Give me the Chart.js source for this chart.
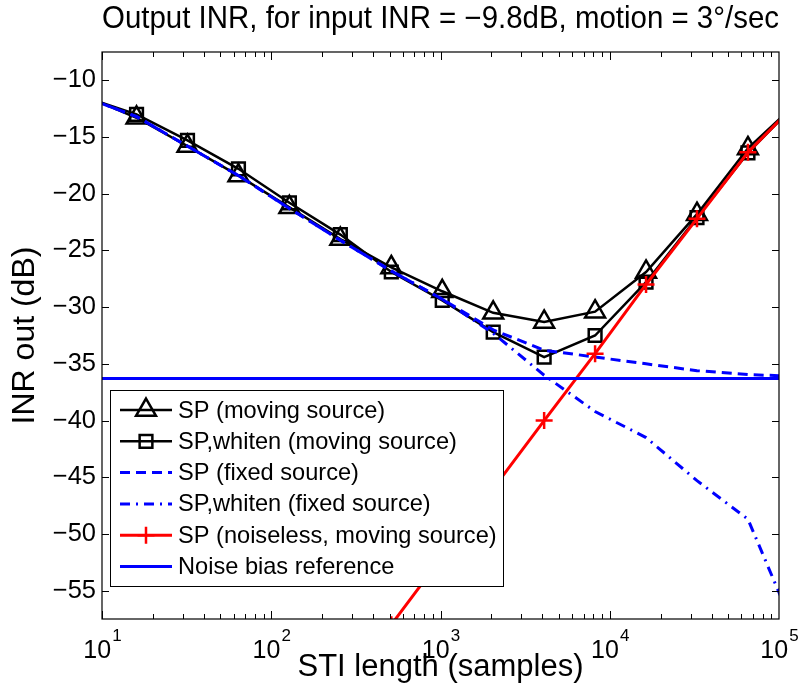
<!DOCTYPE html>
<html>
<head>
<meta charset="utf-8">
<title>Output INR vs STI length</title>
<script src="https://cdn.jsdelivr.net/npm/chart.js@4.4.1/dist/chart.umd.min.js"></script>
<style>
  html, body { margin: 0; padding: 0; background: #fff; }
</style>
</head>
<body>
<canvas id="inrChart" width="799" height="698"></canvas>
<script>
// STI lengths (samples), powers of two; first and last lie just outside the axis range
const xSamples = [8, 16, 32, 64, 128, 256, 512, 1024, 2048, 4096, 8192, 16384, 32768, 65536, 131072];

// INR out (dB) for each curve
const spMoving      = [-11.4, -13.3, -15.8, -18.4, -21.2, -24.0, -26.5, -28.6, -30.5, -31.3, -30.4, -26.9, -21.8, -16.0, -11.8];
const spWhitenMov   = [-11.5, -13.0, -15.3, -17.8, -20.8, -23.6, -26.9, -29.4, -32.2, -34.4, -32.5, -27.8, -22.1, -16.4, -11.8];
const spFixed       = [-11.5, -13.2, -15.8, -18.4, -21.3, -24.1, -26.8, -29.3, -32.0, -33.8, -34.4, -35.0, -35.6, -35.95, -36.1];
const spWhitenFixed = [-11.5, -13.2, -15.8, -18.4, -21.3, -24.1, -26.8, -29.3, -32.3, -36.0, -39.2, -41.5, -45.3, -48.7, -59.3];
const spNoiseless   = [null, null, null, null, null, null, -58.0, -52.0, -46.0, -40.0, -34.1, -28.0, -22.2, -16.35, -11.8];
const noiseBias = -36.3;

const yTicks = [-10, -15, -20, -25, -30, -35, -40, -45, -50, -55];
const xTickExps = [1, 2, 3, 4, 5];

const FONT = "'Liberation Sans', Arial, Helvetica, sans-serif";
const minus = v => (v < 0 ? "\u2212" + Math.abs(v) : String(v));
const toPts = ys => xSamples.map((x, i) => ({ x: x, y: ys[i] }));

const datasets = [
  { label: "SP (moving source)", data: toPts(spMoving), borderColor: "#000", borderWidth: 2.5,
    pointStyle: "triangle", pointRadius: 11.5, pointBorderWidth: 2.5, order: 5 },
  { label: "SP,whiten (moving source)", data: toPts(spWhitenMov), borderColor: "#000", borderWidth: 2.5,
    pointStyle: "rect", pointRadius: 9, pointBorderWidth: 2.5, order: 4 },
  { label: "SP (fixed source)", data: toPts(spFixed), borderColor: "#0000ff", borderWidth: 3,
    borderDash: [10, 6], pointRadius: 0, order: 3 },
  { label: "SP,whiten (fixed source)", data: toPts(spWhitenFixed), borderColor: "#0000ff", borderWidth: 3,
    borderDash: [10, 6, 2, 6], pointRadius: 0, order: 2 },
  { label: "SP (noiseless, moving source)", data: toPts(spNoiseless), borderColor: "#ff0000", borderWidth: 3,
    pointStyle: "cross", pointRadius: 8.5, pointBorderWidth: 2.5, order: 1 },
  { label: "Noise bias reference", data: toPts(xSamples.map(() => noiseBias)), borderColor: "#0000ff", borderWidth: 3,
    pointRadius: 0, order: 0 }
];
datasets.forEach(d => {
  d.pointBorderColor = d.borderColor;
  d.pointBackgroundColor = "rgba(0,0,0,0)";
  d.fill = false;
  d.tension = 0;
  d.clip = 0;
});

// marker shapes for the legend, same geometry as Chart.js point styles
function marker(ctx, style, x, y, r) {
  ctx.beginPath();
  if (style === "triangle") {
    const s = Math.sin(Math.PI * 2 / 3) * r;
    ctx.moveTo(x, y - r);
    ctx.lineTo(x + s, y + r / 2);
    ctx.lineTo(x - s, y + r / 2);
    ctx.closePath();
  } else if (style === "rect") {
    const h = Math.SQRT1_2 * r;
    ctx.rect(x - h, y - h, 2 * h, 2 * h);
  } else if (style === "cross") {
    ctx.moveTo(x - r, y); ctx.lineTo(x + r, y);
    ctx.moveTo(x, y - r); ctx.lineTo(x, y + r);
  }
  ctx.stroke();
}

const matlabFrame = {
  id: "matlabFrame",
  afterDatasetsDraw(chart) {
    // legend box inside the axes, like MATLAB's
    const ctx = chart.ctx;
    const bx = 110, by = 390, bw = 393, bh = 196, row = 31.3;
    ctx.save();
    ctx.fillStyle = "#fff";
    ctx.fillRect(bx, by, bw, bh);
    ctx.strokeStyle = "#000";
    ctx.lineWidth = 1;
    ctx.strokeRect(bx + 0.5, by + 0.5, bw, bh);
    ctx.font = "23.6px " + FONT;
    ctx.textBaseline = "middle";
    chart.data.datasets.forEach((d, i) => {
      const cy = by + 20 + i * row;
      ctx.strokeStyle = d.borderColor;
      ctx.lineWidth = d.borderWidth;
      ctx.setLineDash(d.borderDash || []);
      ctx.beginPath();
      ctx.moveTo(120, cy);
      ctx.lineTo(172, cy);
      ctx.stroke();
      ctx.setLineDash([]);
      if (d.pointRadius > 0) {
        ctx.lineWidth = d.pointBorderWidth;
        marker(ctx, d.pointStyle, 146, cy, d.pointRadius);
      }
      ctx.fillStyle = "#000";
      ctx.fillText(d.label, 178, cy + 1);
    });
    ctx.restore();
  },
  afterDraw(chart) {
    const ctx = chart.ctx;
    const { left, right, top, bottom } = chart.chartArea;
    const xs = chart.scales.x, ys = chart.scales.y;
    ctx.save();
    ctx.strokeStyle = "#000";
    ctx.lineWidth = 1.2;
    ctx.strokeRect(left, top, right - left, bottom - top);
    ctx.lineWidth = 1;
    ctx.beginPath();
    yTicks.forEach(v => {
      const py = Math.round(ys.getPixelForValue(v)) + 0.5;
      ctx.moveTo(left, py); ctx.lineTo(left + 7, py);
      ctx.moveTo(right, py); ctx.lineTo(right - 7, py);
    });
    for (let e = xTickExps[0]; e < xTickExps[xTickExps.length - 1]; e++) {
      for (let k = 1; k <= 9; k++) {
        const px = Math.round(xs.getPixelForValue(k * Math.pow(10, e))) + 0.5;
        const len = k === 1 ? 8 : 5;
        ctx.moveTo(px, bottom); ctx.lineTo(px, bottom - len);
        ctx.moveTo(px, top); ctx.lineTo(px, top + len);
      }
    }
    ctx.stroke();

    // decade labels 10^n
    ctx.fillStyle = "#000";
    ctx.textBaseline = "alphabetic";
    xTickExps.forEach(e => {
      const px = xs.getPixelForValue(Math.pow(10, e));
      ctx.font = "25px " + FONT;
      const wBase = ctx.measureText("10").width;
      ctx.font = "17px " + FONT;
      const wExp = ctx.measureText(String(e)).width;
      const x0 = px - (wBase + wExp) / 2;
      ctx.font = "25px " + FONT;
      ctx.fillText("10", x0, 658);
      ctx.font = "17px " + FONT;
      ctx.fillText(String(e), x0 + wBase + 1, 641);
    });
    ctx.restore();
  }
};

new Chart(document.getElementById("inrChart").getContext("2d"), {
  type: "line",
  data: { datasets: datasets },
  options: {
    responsive: false,
    animation: false,
    events: [],
    layout: { padding: { left: 0, right: 20, top: 0, bottom: 0 } },
    plugins: {
      legend: { display: false },
      tooltip: { enabled: false },
      title: {
        display: true,
        fullSize: false,
        text: "Output INR, for input INR = \u22129.8dB, motion = 3\u00b0/sec",
        color: "#000",
        font: { family: FONT, size: 30.5, weight: "normal" },
        padding: { top: 1, bottom: 14.4 }
      }
    },
    scales: {
      x: {
        type: "logarithmic",
        min: 10,
        max: 100000,
        grid: { display: false, drawTicks: false },
        border: { display: false },
        ticks: { display: false },
        title: {
          display: true,
          text: "STI length (samples)",
          color: "#000",
          font: { family: FONT, size: 31 },
          padding: { top: 0, bottom: 12 }
        },
        afterFit: s => { s.height = 79; }
      },
      y: {
        min: -57.5,
        max: -7.5,
        grid: { display: false, drawTicks: false },
        border: { display: false },
        afterBuildTicks: s => { s.ticks = yTicks.map(v => ({ value: v })); },
        ticks: {
          padding: 6,
          color: "#000",
          font: { family: FONT, size: 25.5 },
          callback: v => minus(v)
        },
        title: {
          display: true,
          text: "INR out (dB)",
          color: "#000",
          font: { family: FONT, size: 32 },
          padding: { top: 6, bottom: 0 }
        },
        afterFit: s => { s.width = 102; }
      }
    }
  },
  plugins: [matlabFrame]
});
</script>
</body>
</html>
